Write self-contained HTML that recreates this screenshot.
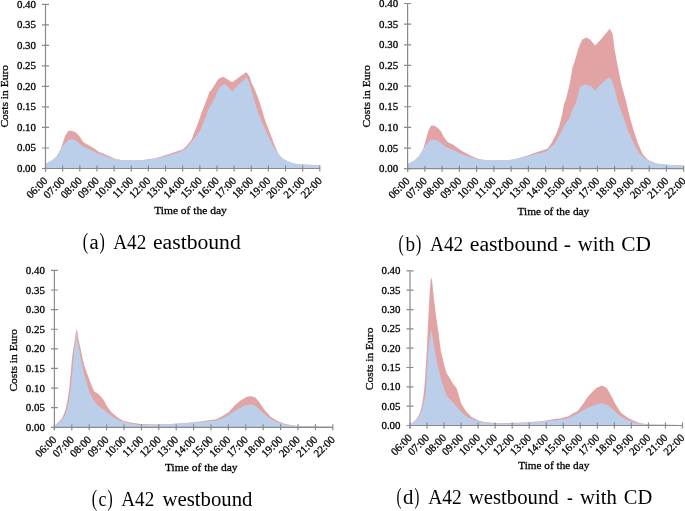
<!DOCTYPE html>
<html><head><meta charset="utf-8"><style>
html,body{margin:0;padding:0;background:#fff;}
body{width:685px;height:511px;overflow:hidden;font-family:"Liberation Serif",serif;}
svg{display:block;will-change:transform;}
</style></head><body>
<svg width="685" height="511" viewBox="0 0 685 511">
<polygon points="45.5,168.5 45.5,163.9 51.9,160.6 56.5,156.5 61.1,148.1 65.0,136.3 68.3,131.0 71.6,130.8 75.5,132.3 79.5,136.3 83.4,142.2 87.4,144.4 92.6,147.4 99.2,152.0 104.4,154.0 112.3,157.6 116.3,159.3 122.8,160.2 134.0,160.4 143.1,160.0 156.3,158.0 166.8,154.7 174.7,152.0 182.6,149.4 186.5,146.1 191.8,139.2 194.1,132.8 196.5,126.9 198.8,121.1 200.6,115.2 202.9,109.3 205.2,103.5 207.6,97.6 209.4,91.7 211.0,90.5 214.0,85.9 217.6,80.0 219.2,78.2 223.6,76.8 228.0,79.7 232.3,82.2 235.0,80.2 239.7,76.7 246.4,72.0 249.7,76.7 251.4,82.6 254.4,88.5 256.7,94.3 259.0,100.2 260.8,106.1 262.6,111.9 264.3,117.8 266.4,123.7 270.2,133.6 274.2,144.2 278.1,153.4 282.0,158.0 287.3,161.2 295.2,163.9 303.0,164.5 319.8,165.2 319.8,168.5" fill="#e2a3a4"/>
<polygon points="45.5,168.5 45.5,163.9 51.9,160.6 56.5,157.3 59.8,150.7 63.7,144.8 68.3,140.0 71.6,139.2 75.5,140.2 79.5,143.5 83.4,146.8 90.0,149.4 96.6,152.7 103.1,155.3 109.7,157.6 116.3,159.3 122.8,160.2 134.0,160.6 143.1,160.2 156.3,158.6 166.8,156.0 174.7,153.4 182.6,150.7 186.5,148.1 191.8,141.5 195.5,137.0 198.8,132.8 201.7,126.9 204.1,121.1 206.4,115.2 208.8,108.2 211.7,103.5 215.2,97.6 217.6,90.6 219.9,87.0 224.3,84.1 228.0,87.0 232.3,91.4 236.7,86.3 241.0,82.6 246.7,77.3 249.1,82.6 250.8,88.5 252.6,94.3 254.4,100.2 256.1,106.1 257.9,111.9 260.3,117.8 262.5,123.7 265.0,128.4 268.9,137.6 272.8,145.5 276.8,152.0 280.7,157.3 286.0,160.6 292.6,163.2 303.0,164.5 319.8,165.2 319.8,168.5" fill="#bccfea"/>
<g stroke="#8a8a8a" stroke-width="1.2" fill="none">
<path d="M45.50,4.40V171.50"/>
<path d="M45.50,168.50H319.80"/>
<path d="M42.00,168.50H49.00M42.00,147.99H49.00M42.00,127.47H49.00M42.00,106.96H49.00M42.00,86.45H49.00M42.00,65.94H49.00M42.00,45.43H49.00M42.00,24.91H49.00M42.00,4.40H49.00M45.50,165.50V171.50M62.64,165.50V171.50M79.79,165.50V171.50M96.93,165.50V171.50M114.08,165.50V171.50M131.22,165.50V171.50M148.36,165.50V171.50M165.51,165.50V171.50M182.65,165.50V171.50M199.79,165.50V171.50M216.94,165.50V171.50M234.08,165.50V171.50M251.23,165.50V171.50M268.37,165.50V171.50M285.51,165.50V171.50M302.66,165.50V171.50M319.80,165.50V171.50"/>
</g>
<g font-family="Liberation Serif" font-size="10.9" fill="#000" stroke="#000" stroke-width="0.3" text-anchor="end">
<text x="36.00" y="172.00">0.00</text>
<text x="36.00" y="151.49">0.05</text>
<text x="36.00" y="130.97">0.10</text>
<text x="36.00" y="110.46">0.15</text>
<text x="36.00" y="89.95">0.20</text>
<text x="36.00" y="69.44">0.25</text>
<text x="36.00" y="48.93">0.30</text>
<text x="36.00" y="28.41">0.35</text>
<text x="36.00" y="7.90">0.40</text>
</g>
<g font-family="Liberation Serif" font-size="10.9" fill="#000" stroke="#000" stroke-width="0.3" text-anchor="end">
<text transform="translate(48.20,181.50) rotate(-45)">06:00</text>
<text transform="translate(65.34,181.50) rotate(-45)">07:00</text>
<text transform="translate(82.49,181.50) rotate(-45)">08:00</text>
<text transform="translate(99.63,181.50) rotate(-45)">09:00</text>
<text transform="translate(116.78,181.50) rotate(-45)">10:00</text>
<text transform="translate(133.92,181.50) rotate(-45)">11:00</text>
<text transform="translate(151.06,181.50) rotate(-45)">12:00</text>
<text transform="translate(168.21,181.50) rotate(-45)">13:00</text>
<text transform="translate(185.35,181.50) rotate(-45)">14:00</text>
<text transform="translate(202.49,181.50) rotate(-45)">15:00</text>
<text transform="translate(219.64,181.50) rotate(-45)">16:00</text>
<text transform="translate(236.78,181.50) rotate(-45)">17:00</text>
<text transform="translate(253.93,181.50) rotate(-45)">18:00</text>
<text transform="translate(271.07,181.50) rotate(-45)">19:00</text>
<text transform="translate(288.21,181.50) rotate(-45)">20:00</text>
<text transform="translate(305.36,181.50) rotate(-45)">21:00</text>
<text transform="translate(322.50,181.50) rotate(-45)">22:00</text>
</g>
<text font-family="Liberation Serif" font-size="11.4" stroke="#000" stroke-width="0.3" text-anchor="middle" transform="translate(7.90,96.30) rotate(-90)" textLength="62.6" lengthAdjust="spacingAndGlyphs">Costs in Euro</text>
<text font-family="Liberation Serif" font-size="11.4" stroke="#000" stroke-width="0.3" text-anchor="middle" x="190.50" y="214.40" textLength="72.7" lengthAdjust="spacingAndGlyphs">Time of the day</text>
<text font-family="Liberation Serif" font-size="23" x="82.70" y="248.80" textLength="5.40" lengthAdjust="spacingAndGlyphs">(</text>
<text font-family="Liberation Serif" font-size="20" x="89.40" y="248.80" textLength="9.20" lengthAdjust="spacingAndGlyphs">a</text>
<text font-family="Liberation Serif" font-size="23" x="99.50" y="248.80" textLength="5.30" lengthAdjust="spacingAndGlyphs">)</text>
<text font-family="Liberation Serif" font-size="20" x="113.25" y="248.80" textLength="33.00" lengthAdjust="spacingAndGlyphs">A42</text>
<text font-family="Liberation Serif" font-size="20" x="153.00" y="248.80" textLength="87.75" lengthAdjust="spacingAndGlyphs">eastbound</text>
<polygon points="407.6,168.7 407.6,164.0 414.0,160.8 419.1,156.0 423.1,149.4 425.7,140.2 428.3,131.0 431.0,125.8 434.2,125.5 437.5,127.7 440.8,131.0 444.1,137.6 448.0,142.2 453.3,144.8 458.6,148.8 463.8,152.0 469.1,154.7 474.3,157.3 479.6,159.3 490.0,160.6 511.1,160.3 525.2,156.3 535.1,152.8 543.5,150.0 547.7,148.6 552.0,142.3 556.2,133.8 559.0,126.8 561.8,116.0 564.0,104.2 565.7,100.0 569.6,84.6 572.5,67.0 573.5,65.0 576.4,55.2 579.4,45.4 582.3,39.6 586.2,37.6 590.1,39.6 595.0,45.4 599.9,40.5 604.8,34.7 609.7,28.8 612.6,33.7 614.6,49.4 617.5,65.0 621.4,84.6 626.0,101.0 629.5,116.0 633.8,131.0 638.1,143.7 642.3,153.6 647.9,159.9 656.4,163.4 670.5,165.1 683.7,165.5 683.7,168.7" fill="#e2a3a4"/>
<polygon points="407.6,168.7 407.6,164.0 414.0,160.8 418.6,157.5 422.0,151.0 426.0,145.0 430.5,140.3 433.6,139.8 437.5,140.5 441.5,143.5 445.5,146.8 452.0,149.5 458.6,152.7 465.0,155.3 471.8,157.6 478.4,159.3 485.0,160.2 496.0,160.6 505.0,160.4 518.2,158.5 532.3,154.9 546.3,151.4 550.0,148.0 554.8,143.7 560.4,133.8 566.0,122.5 569.6,118.8 571.7,111.3 575.4,104.0 578.0,95.0 580.3,86.5 585.2,84.6 591.1,86.5 595.0,90.4 600.9,84.6 606.8,78.7 610.7,77.7 614.6,88.5 617.6,101.0 622.6,115.0 628.2,131.0 633.8,143.7 639.5,153.6 646.5,159.9 656.4,163.4 670.5,165.1 683.7,165.5 683.7,168.7" fill="#bccfea"/>
<g stroke="#8a8a8a" stroke-width="1.2" fill="none">
<path d="M407.60,3.50V171.70"/>
<path d="M407.60,168.70H683.70"/>
<path d="M404.10,168.70H411.10M404.10,148.05H411.10M404.10,127.40H411.10M404.10,106.75H411.10M404.10,86.10H411.10M404.10,65.45H411.10M404.10,44.80H411.10M404.10,24.15H411.10M404.10,3.50H411.10M407.60,165.70V171.70M424.86,165.70V171.70M442.11,165.70V171.70M459.37,165.70V171.70M476.62,165.70V171.70M493.88,165.70V171.70M511.14,165.70V171.70M528.39,165.70V171.70M545.65,165.70V171.70M562.91,165.70V171.70M580.16,165.70V171.70M597.42,165.70V171.70M614.68,165.70V171.70M631.93,165.70V171.70M649.19,165.70V171.70M666.44,165.70V171.70M683.70,165.70V171.70"/>
</g>
<g font-family="Liberation Serif" font-size="10.9" fill="#000" stroke="#000" stroke-width="0.3" text-anchor="end">
<text x="398.10" y="172.20">0.00</text>
<text x="398.10" y="151.55">0.05</text>
<text x="398.10" y="130.90">0.10</text>
<text x="398.10" y="110.25">0.15</text>
<text x="398.10" y="89.60">0.20</text>
<text x="398.10" y="68.95">0.25</text>
<text x="398.10" y="48.30">0.30</text>
<text x="398.10" y="27.65">0.35</text>
<text x="398.10" y="7.00">0.40</text>
</g>
<g font-family="Liberation Serif" font-size="10.9" fill="#000" stroke="#000" stroke-width="0.3" text-anchor="end">
<text transform="translate(410.30,181.70) rotate(-45)">06:00</text>
<text transform="translate(427.56,181.70) rotate(-45)">07:00</text>
<text transform="translate(444.81,181.70) rotate(-45)">08:00</text>
<text transform="translate(462.07,181.70) rotate(-45)">09:00</text>
<text transform="translate(479.32,181.70) rotate(-45)">10:00</text>
<text transform="translate(496.58,181.70) rotate(-45)">11:00</text>
<text transform="translate(513.84,181.70) rotate(-45)">12:00</text>
<text transform="translate(531.09,181.70) rotate(-45)">13:00</text>
<text transform="translate(548.35,181.70) rotate(-45)">14:00</text>
<text transform="translate(565.61,181.70) rotate(-45)">15:00</text>
<text transform="translate(582.86,181.70) rotate(-45)">16:00</text>
<text transform="translate(600.12,181.70) rotate(-45)">17:00</text>
<text transform="translate(617.38,181.70) rotate(-45)">18:00</text>
<text transform="translate(634.63,181.70) rotate(-45)">19:00</text>
<text transform="translate(651.89,181.70) rotate(-45)">20:00</text>
<text transform="translate(669.14,181.70) rotate(-45)">21:00</text>
<text transform="translate(686.40,181.70) rotate(-45)">22:00</text>
</g>
<text font-family="Liberation Serif" font-size="11.4" stroke="#000" stroke-width="0.3" text-anchor="middle" transform="translate(370.30,96.30) rotate(-90)" textLength="62.6" lengthAdjust="spacingAndGlyphs">Costs in Euro</text>
<text font-family="Liberation Serif" font-size="11.4" stroke="#000" stroke-width="0.3" text-anchor="middle" x="553.40" y="214.70" textLength="71.8" lengthAdjust="spacingAndGlyphs">Time of the day</text>
<text font-family="Liberation Serif" font-size="23" x="398.40" y="250.90" textLength="5.20" lengthAdjust="spacingAndGlyphs">(</text>
<text font-family="Liberation Serif" font-size="20" x="405.40" y="250.90" textLength="9.60" lengthAdjust="spacingAndGlyphs">b</text>
<text font-family="Liberation Serif" font-size="23" x="415.90" y="250.90" textLength="5.30" lengthAdjust="spacingAndGlyphs">)</text>
<text font-family="Liberation Serif" font-size="20" x="430.00" y="250.90" textLength="33.25" lengthAdjust="spacingAndGlyphs">A42</text>
<text font-family="Liberation Serif" font-size="20" x="469.75" y="250.90" textLength="88.25" lengthAdjust="spacingAndGlyphs">eastbound</text>
<text font-family="Liberation Serif" font-size="20" x="563.75" y="250.90" textLength="7.25" lengthAdjust="spacingAndGlyphs">-</text>
<text font-family="Liberation Serif" font-size="20" x="577.75" y="250.90" textLength="37.00" lengthAdjust="spacingAndGlyphs">with</text>
<text font-family="Liberation Serif" font-size="20" x="621.25" y="250.90" textLength="29.75" lengthAdjust="spacingAndGlyphs">CD</text>
<polygon points="54.4,427.3 54.4,426.0 55.0,425.3 58.8,422.1 62.7,417.2 65.6,409.3 67.6,399.6 69.1,389.8 70.0,380.0 70.6,374.5 72.1,357.2 74.7,340.0 76.4,329.2 77.4,331.8 78.6,340.0 80.6,348.6 82.3,357.2 84.4,365.9 87.5,374.5 90.6,383.1 94.4,391.7 97.9,393.4 101.3,396.9 103.9,400.3 106.5,405.5 111.7,412.4 117.7,417.6 123.7,421.0 132.0,422.8 140.7,424.1 156.0,424.6 171.3,424.1 186.6,423.0 202.0,421.3 208.1,420.3 216.1,419.2 222.5,416.0 228.9,411.9 234.5,405.5 240.1,400.7 245.8,397.2 250.6,395.9 255.4,397.5 259.4,402.3 264.2,409.5 270.7,416.8 277.1,420.8 285.1,424.0 296.4,426.1 332.8,426.8 332.8,427.3" fill="#e2a3a4"/>
<polygon points="54.4,427.3 54.4,426.0 55.4,425.0 60.8,421.1 64.2,417.2 67.1,409.3 69.1,399.6 70.5,389.8 71.5,380.0 72.2,374.5 73.5,357.2 74.6,348.5 75.6,340.0 76.4,331.2 77.2,340.0 78.9,348.6 80.6,357.2 82.3,365.9 84.1,374.5 86.7,383.1 89.2,391.7 93.6,400.3 97.9,405.5 103.0,409.0 107.3,412.4 113.4,417.6 120.3,421.0 127.2,422.8 138.1,424.9 156.0,424.6 171.3,424.1 186.6,423.0 202.0,421.8 208.1,421.2 216.1,420.4 225.7,416.8 232.1,412.7 238.5,408.7 245.0,405.5 251.4,404.4 256.2,406.3 261.0,411.1 267.4,416.8 275.5,421.6 283.5,424.0 296.4,426.1 332.8,426.8 332.8,427.3" fill="#bccfea"/>
<g stroke="#8a8a8a" stroke-width="1.2" fill="none">
<path d="M54.40,270.40V430.30"/>
<path d="M54.40,427.30H332.80"/>
<path d="M50.90,427.30H57.90M50.90,407.69H57.90M50.90,388.07H57.90M50.90,368.46H57.90M50.90,348.85H57.90M50.90,329.24H57.90M50.90,309.62H57.90M50.90,290.01H57.90M50.90,270.40H57.90M54.40,424.30V430.30M71.80,424.30V430.30M89.20,424.30V430.30M106.60,424.30V430.30M124.00,424.30V430.30M141.40,424.30V430.30M158.80,424.30V430.30M176.20,424.30V430.30M193.60,424.30V430.30M211.00,424.30V430.30M228.40,424.30V430.30M245.80,424.30V430.30M263.20,424.30V430.30M280.60,424.30V430.30M298.00,424.30V430.30M315.40,424.30V430.30M332.80,424.30V430.30"/>
</g>
<g font-family="Liberation Serif" font-size="10.9" fill="#000" stroke="#000" stroke-width="0.3" text-anchor="end">
<text x="44.90" y="430.80">0.00</text>
<text x="44.90" y="411.19">0.05</text>
<text x="44.90" y="391.57">0.10</text>
<text x="44.90" y="371.96">0.15</text>
<text x="44.90" y="352.35">0.20</text>
<text x="44.90" y="332.74">0.25</text>
<text x="44.90" y="313.12">0.30</text>
<text x="44.90" y="293.51">0.35</text>
<text x="44.90" y="273.90">0.40</text>
</g>
<g font-family="Liberation Serif" font-size="10.9" fill="#000" stroke="#000" stroke-width="0.3" text-anchor="end">
<text transform="translate(57.10,440.30) rotate(-45)">06:00</text>
<text transform="translate(74.50,440.30) rotate(-45)">07:00</text>
<text transform="translate(91.90,440.30) rotate(-45)">08:00</text>
<text transform="translate(109.30,440.30) rotate(-45)">09:00</text>
<text transform="translate(126.70,440.30) rotate(-45)">10:00</text>
<text transform="translate(144.10,440.30) rotate(-45)">11:00</text>
<text transform="translate(161.50,440.30) rotate(-45)">12:00</text>
<text transform="translate(178.90,440.30) rotate(-45)">13:00</text>
<text transform="translate(196.30,440.30) rotate(-45)">14:00</text>
<text transform="translate(213.70,440.30) rotate(-45)">15:00</text>
<text transform="translate(231.10,440.30) rotate(-45)">16:00</text>
<text transform="translate(248.50,440.30) rotate(-45)">17:00</text>
<text transform="translate(265.90,440.30) rotate(-45)">18:00</text>
<text transform="translate(283.30,440.30) rotate(-45)">19:00</text>
<text transform="translate(300.70,440.30) rotate(-45)">20:00</text>
<text transform="translate(318.10,440.30) rotate(-45)">21:00</text>
<text transform="translate(335.50,440.30) rotate(-45)">22:00</text>
</g>
<text font-family="Liberation Serif" font-size="11.4" stroke="#000" stroke-width="0.3" text-anchor="middle" transform="translate(17.00,360.30) rotate(-90)" textLength="62.6" lengthAdjust="spacingAndGlyphs">Costs in Euro</text>
<text font-family="Liberation Serif" font-size="11.4" stroke="#000" stroke-width="0.3" text-anchor="middle" x="201.30" y="471.40" textLength="72.6" lengthAdjust="spacingAndGlyphs">Time of the day</text>
<text font-family="Liberation Serif" font-size="23" x="91.80" y="506.00" textLength="5.30" lengthAdjust="spacingAndGlyphs">(</text>
<text font-family="Liberation Serif" font-size="20" x="98.40" y="506.00" textLength="7.90" lengthAdjust="spacingAndGlyphs">c</text>
<text font-family="Liberation Serif" font-size="23" x="107.60" y="506.00" textLength="5.20" lengthAdjust="spacingAndGlyphs">)</text>
<text font-family="Liberation Serif" font-size="20" x="121.25" y="506.00" textLength="33.00" lengthAdjust="spacingAndGlyphs">A42</text>
<text font-family="Liberation Serif" font-size="20" x="162.50" y="506.00" textLength="90.00" lengthAdjust="spacingAndGlyphs">westbound</text>
<polygon points="410.0,425.5 410.0,424.8 413.8,422.0 417.7,417.2 420.2,412.3 422.1,404.4 423.6,394.7 424.6,384.9 425.3,375.0 425.8,365.3 426.9,350.0 427.6,332.8 428.5,315.2 429.4,297.6 430.6,280.0 431.3,277.7 432.0,280.0 433.8,297.6 435.9,315.2 438.5,332.8 440.7,350.0 444.3,365.3 446.5,372.9 449.8,378.2 452.8,383.6 456.6,388.2 458.9,395.8 461.2,403.4 465.8,411.1 471.9,417.2 478.0,420.2 484.0,422.0 498.0,423.2 508.3,422.9 528.2,422.3 543.6,421.1 555.8,418.8 560.0,418.4 566.4,416.8 568.1,416.5 572.8,413.5 577.7,411.1 582.5,404.7 587.3,397.5 592.1,391.9 596.9,387.8 601.8,385.4 606.6,387.8 611.4,395.9 616.2,405.5 621.0,412.7 627.4,417.6 633.9,420.8 640.3,423.2 649.9,424.5 682.5,425.0 682.5,425.5" fill="#e2a3a4"/>
<polygon points="410.0,425.5 410.0,424.8 410.9,424.0 414.8,421.1 418.7,417.2 421.1,412.3 422.6,407.4 424.6,399.6 426.0,389.8 426.6,380.0 427.3,365.3 428.4,350.0 429.5,340.0 431.2,330.2 432.5,336.0 434.5,350.0 437.6,365.3 441.4,380.5 446.7,395.8 451.3,400.4 455.1,405.0 460.5,411.1 467.3,417.2 475.0,420.2 482.0,422.0 490.2,423.2 508.3,423.4 528.2,422.8 543.6,421.5 555.8,420.2 568.1,418.6 579.3,412.7 587.3,407.9 595.3,404.7 601.8,403.1 608.2,405.5 614.6,411.1 621.0,416.8 629.0,420.8 637.1,423.2 650.0,424.5 682.5,425.0 682.5,425.5" fill="#bccfea"/>
<g stroke="#8a8a8a" stroke-width="1.2" fill="none">
<path d="M410.00,270.90V428.50"/>
<path d="M410.00,425.50H682.50"/>
<path d="M406.50,425.50H413.50M406.50,406.18H413.50M406.50,386.85H413.50M406.50,367.52H413.50M406.50,348.20H413.50M406.50,328.88H413.50M406.50,309.55H413.50M406.50,290.22H413.50M406.50,270.90H413.50M410.00,422.50V428.50M427.03,422.50V428.50M444.06,422.50V428.50M461.09,422.50V428.50M478.12,422.50V428.50M495.16,422.50V428.50M512.19,422.50V428.50M529.22,422.50V428.50M546.25,422.50V428.50M563.28,422.50V428.50M580.31,422.50V428.50M597.34,422.50V428.50M614.38,422.50V428.50M631.41,422.50V428.50M648.44,422.50V428.50M665.47,422.50V428.50M682.50,422.50V428.50"/>
</g>
<g font-family="Liberation Serif" font-size="10.9" fill="#000" stroke="#000" stroke-width="0.3" text-anchor="end">
<text x="400.50" y="429.00">0.00</text>
<text x="400.50" y="409.68">0.05</text>
<text x="400.50" y="390.35">0.10</text>
<text x="400.50" y="371.02">0.15</text>
<text x="400.50" y="351.70">0.20</text>
<text x="400.50" y="332.38">0.25</text>
<text x="400.50" y="313.05">0.30</text>
<text x="400.50" y="293.72">0.35</text>
<text x="400.50" y="274.40">0.40</text>
</g>
<g font-family="Liberation Serif" font-size="10.9" fill="#000" stroke="#000" stroke-width="0.3" text-anchor="end">
<text transform="translate(412.70,438.50) rotate(-45)">06:00</text>
<text transform="translate(429.73,438.50) rotate(-45)">07:00</text>
<text transform="translate(446.76,438.50) rotate(-45)">08:00</text>
<text transform="translate(463.79,438.50) rotate(-45)">09:00</text>
<text transform="translate(480.82,438.50) rotate(-45)">10:00</text>
<text transform="translate(497.86,438.50) rotate(-45)">11:00</text>
<text transform="translate(514.89,438.50) rotate(-45)">12:00</text>
<text transform="translate(531.92,438.50) rotate(-45)">13:00</text>
<text transform="translate(548.95,438.50) rotate(-45)">14:00</text>
<text transform="translate(565.98,438.50) rotate(-45)">15:00</text>
<text transform="translate(583.01,438.50) rotate(-45)">16:00</text>
<text transform="translate(600.04,438.50) rotate(-45)">17:00</text>
<text transform="translate(617.08,438.50) rotate(-45)">18:00</text>
<text transform="translate(634.11,438.50) rotate(-45)">19:00</text>
<text transform="translate(651.14,438.50) rotate(-45)">20:00</text>
<text transform="translate(668.17,438.50) rotate(-45)">21:00</text>
<text transform="translate(685.20,438.50) rotate(-45)">22:00</text>
</g>
<text font-family="Liberation Serif" font-size="11.4" stroke="#000" stroke-width="0.3" text-anchor="middle" transform="translate(372.90,358.90) rotate(-90)" textLength="62.6" lengthAdjust="spacingAndGlyphs">Costs in Euro</text>
<text font-family="Liberation Serif" font-size="11.4" stroke="#000" stroke-width="0.3" text-anchor="middle" x="553.75" y="469.00" textLength="71.1" lengthAdjust="spacingAndGlyphs">Time of the day</text>
<text font-family="Liberation Serif" font-size="23" x="396.50" y="504.30" textLength="5.00" lengthAdjust="spacingAndGlyphs">(</text>
<text font-family="Liberation Serif" font-size="20" x="402.90" y="504.30" textLength="10.40" lengthAdjust="spacingAndGlyphs">d</text>
<text font-family="Liberation Serif" font-size="23" x="414.60" y="504.30" textLength="4.80" lengthAdjust="spacingAndGlyphs">)</text>
<text font-family="Liberation Serif" font-size="20" x="428.25" y="504.30" textLength="33.50" lengthAdjust="spacingAndGlyphs">A42</text>
<text font-family="Liberation Serif" font-size="20" x="468.75" y="504.30" textLength="90.00" lengthAdjust="spacingAndGlyphs">westbound</text>
<text font-family="Liberation Serif" font-size="20" x="567.00" y="504.30" textLength="5.75" lengthAdjust="spacingAndGlyphs">-</text>
<text font-family="Liberation Serif" font-size="20" x="580.00" y="504.30" textLength="36.75" lengthAdjust="spacingAndGlyphs">with</text>
<text font-family="Liberation Serif" font-size="20" x="623.75" y="504.30" textLength="28.50" lengthAdjust="spacingAndGlyphs">CD</text>
</svg>
</body></html>
